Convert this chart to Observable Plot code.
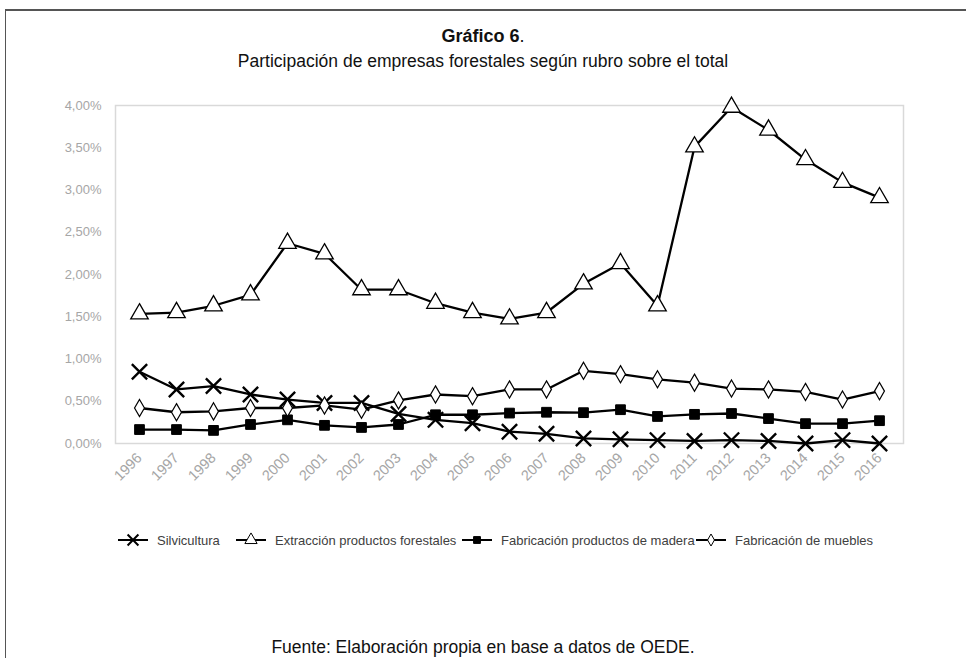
<!DOCTYPE html>
<html><head><meta charset="utf-8">
<script src="https://cdn.jsdelivr.net/npm/d3@7"></script>
<script src="https://cdn.jsdelivr.net/npm/@observablehq/plot@0.6"></script>
<style>
body{margin:0;background:#fff;font-family:"Liberation Sans",Arial,sans-serif;}
#wrap{position:relative;width:966px;height:658px;overflow:hidden;background:#fff;}
#frame{position:absolute;left:5px;top:9px;width:980px;height:700px;border-top:2px solid #555;border-left:1px solid #555;}
.c{position:absolute;left:0;width:966px;text-align:center;color:#111;white-space:nowrap;}
#t1{top:26px;font-size:18px;}
#t2{top:51px;font-size:17.5px;}
#cap{top:637px;font-size:17.5px;}
#chart{position:absolute;left:0;top:90px;}
#legend{position:absolute;left:0;top:528px;}
</style></head><body>
<div id="wrap">
  <div id="frame"></div>
  <div id="t1" class="c"><b>Gráfico 6</b>.</div>
  <div id="t2" class="c">Participación de empresas forestales según rubro sobre el total</div>
  <div id="chart"></div>
  <div id="legend"></div>
  <div id="cap" class="c">Fuente: Elaboración propia en base a datos de OEDE.</div>
</div>
<script>
const years = ["1996","1997","1998","1999","2000","2001","2002","2003","2004","2005","2006","2007","2008","2009","2010","2011","2012","2013","2014","2015","2016"];
const seriesNames = ["Silvicultura","Extracción productos forestales","Fabricación productos de madera","Fabricación de muebles"];
// values in percent
const silvicultura = [0.85,0.64,0.68,0.58,0.52,0.48,0.48,0.35,0.28,0.24,0.14,0.115,0.06,0.05,0.04,0.03,0.04,0.03,0.0,0.04,0.0];
const extraccion   = [1.535,1.55,1.63,1.76,2.37,2.245,1.82,1.82,1.66,1.55,1.475,1.55,1.89,2.13,1.63,3.51,3.98,3.71,3.36,3.09,2.91];
const madera       = [0.165,0.165,0.155,0.225,0.28,0.215,0.19,0.225,0.34,0.34,0.36,0.37,0.365,0.40,0.32,0.345,0.355,0.295,0.235,0.235,0.27];
const muebles      = [0.42,0.37,0.38,0.42,0.42,0.45,0.40,0.51,0.58,0.56,0.64,0.64,0.86,0.82,0.76,0.72,0.65,0.64,0.61,0.52,0.62];
const yTicks = [0,0.5,1,1.5,2,2.5,3,3.5,4];

const allValues = [silvicultura, extraccion, madera, muebles];
const rows = seriesNames.map((name, i) => years.map((yr, j) => ({series: name, year: yr, value: allValues[i][j]})));
const fmt = d => d.toFixed(2).replace(".", ",") + "%";

const symbols = [
  {symbol: "times", r: 7, fill: "none", stroke: "#000", strokeWidth: 2.4},
  {symbol: "triangle", r: 6.5, fill: "#fff", stroke: "#000", strokeWidth: 1.3},
  {symbol: "square", r: 5.5, fill: "#000", stroke: "#000", strokeWidth: 1},
  {symbol: "diamond", r: 5.2, fill: "#fff", stroke: "#000", strokeWidth: 1.2}
];

const marks = [
  Plot.frame({stroke: "#d9d9d9", strokeWidth: 1.5}),
  Plot.axisY({ticks: yTicks, tickSize: 0, tickPadding: 14, tickFormat: fmt, label: null, fill: "#a6a6a6", fontSize: 13}),
  Plot.axisX({tickSize: 0, tickRotate: -45, tickPadding: 12, label: null, fill: "#a6a6a6", fontSize: 14.5})
];
rows.forEach((data, i) => {
  marks.push(Plot.line(data, {x: "year", y: "value", stroke: "#000", strokeWidth: 2.3}));
  marks.push(Plot.dot(data, {x: "year", y: "value", ...symbols[i]}));
});

const chart = Plot.plot({
  width: 966, height: 410,
  marginLeft: 115, marginRight: 63, marginTop: 15, marginBottom: 57,
  style: {fontFamily: "'Liberation Sans', Arial, sans-serif", background: "transparent", overflow: "visible"},
  x: {type: "point", domain: years, padding: 0.5, label: null},
  y: {domain: [0, 4], label: null},
  marks
});
document.getElementById("chart").appendChild(chart);

// Legend
const legendX = [133, 251, 477, 711];
const lg = d3.select("#legend").append("svg").attr("width", 966).attr("height", 26)
  .style("font-family", "'Liberation Sans', Arial, sans-serif");
const symMap = {times: d3.symbolTimes, triangle: d3.symbolTriangle, square: d3.symbolSquare, diamond: d3.symbolDiamond};
seriesNames.forEach((name, i) => {
  const cx = legendX[i], cy = 12;
  lg.append("line").attr("x1", cx - 15).attr("x2", cx + 15).attr("y1", cy).attr("y2", cy)
    .attr("stroke", "#000").attr("stroke-width", 2);
  const s = symbols[i];
  const rr = i === 0 ? 5 : s.r * 0.7;
  lg.append("path").attr("d", d3.symbol(symMap[s.symbol], Math.PI * rr * rr)())
    .attr("transform", `translate(${cx},${cy})`)
    .attr("fill", s.fill).attr("stroke", s.stroke).attr("stroke-width", i === 0 ? 2 : 1);
  lg.append("text").attr("x", cx + 24).attr("y", cy).attr("dy", "0.35em")
    .attr("font-size", 13).attr("fill", "#404040").text(name);
});
</script>
</body></html>
